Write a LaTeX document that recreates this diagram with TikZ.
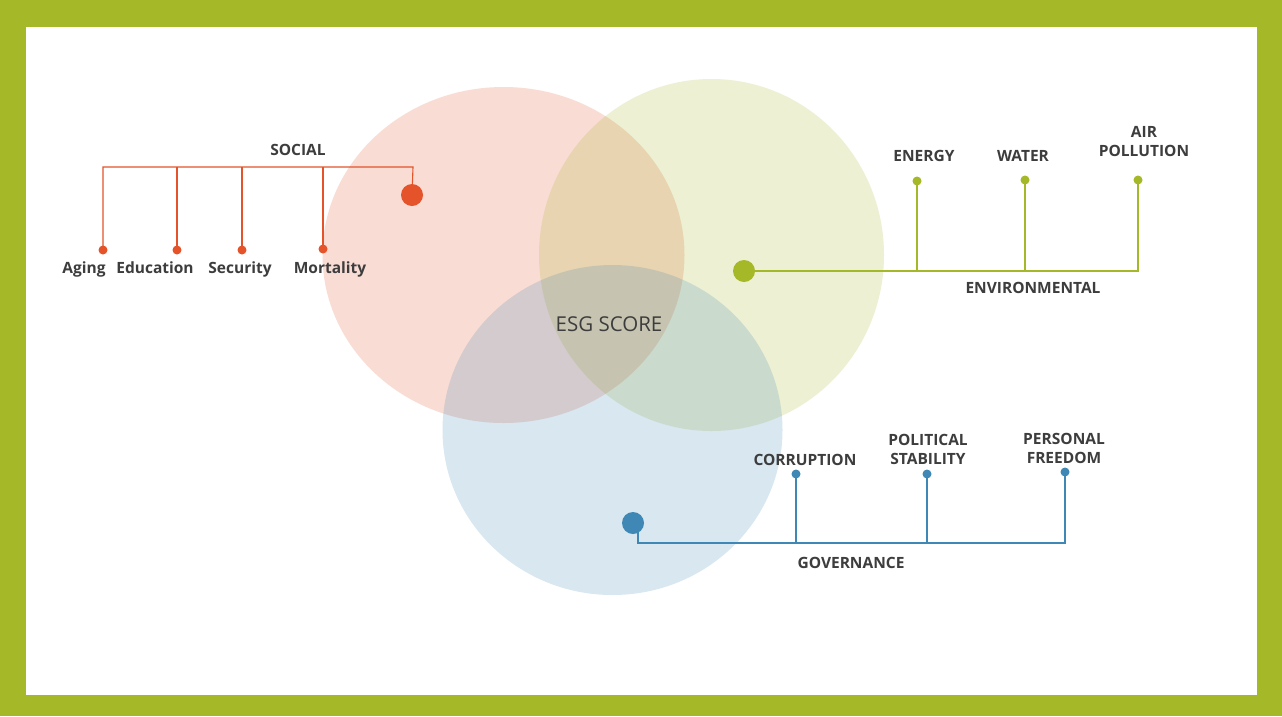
\documentclass[tikz,border=0pt]{standalone}
\usepackage{fontspec}
\setmainfont{Open Sans}
\definecolor{frame}{HTML}{A5B827}
\definecolor{soc}{HTML}{E4532A}
\definecolor{env}{HTML}{A5B827}
\definecolor{gov}{HTML}{3F88B5}
\definecolor{txt}{HTML}{3D3D3D}
\pgfdeclarelayer{back}
\pgfdeclarelayer{mid}
\pgfsetlayers{back,mid,main}
\tikzset{
  bigdot/.style={circle,fill=#1,inner sep=0pt,minimum size=22pt},
  smalldot/.style={circle,fill=#1,inner sep=0pt,minimum size=9pt},
  link/.style={draw=#1,line width=1.1pt},
  lab/.style={text=txt,font=\fontsize{15.5}{19}\selectfont\bfseries,align=center,inner sep=0pt,anchor=base},
  lab2/.style={text=txt,font=\fontsize{15.5}{19}\selectfont\bfseries,align=center,inner sep=0pt},
  venn/.style={fill=#1,fill opacity=0.2}
}
\begin{document}
\begin{tikzpicture}[x=1pt,y=-1pt]
\useasboundingbox (0,0) rectangle (1282,716);
\begin{pgfonlayer}{back}
\fill[frame] (0,0) rectangle (1282,716);
\fill[white] (26,27) rectangle (1257,695);
\fill[venn=soc] (503.5,255) ellipse [x radius=181,y radius=168];
\fill[venn=env] (711.5,255) ellipse [x radius=172.5,y radius=176];
\fill[venn=gov] (612.5,430) ellipse [x radius=170,y radius=165];
\end{pgfonlayer}
% ESG
\node[text=txt,font=\fontsize{20.5}{24}\selectfont,inner sep=0pt,anchor=base] (esg) at (609,331) {ESG SCORE};
% social
\node[bigdot=soc] (sdot) at (412,195) {};
\coordinate (sbar) at (413,167);
\node[smalldot=soc] (s1) at (103,250) {};
\node[smalldot=soc] (s2) at (177,250) {};
\node[smalldot=soc] (s3) at (242,250) {};
\node[smalldot=soc] (s4) at (323,249) {};
\node[lab] (social) at (298,155) {SOCIAL};
\node[lab] (aging) at (84,273.5) {Aging};
\node[lab] (educ) at (155,273.5) {Education};
\node[lab] (secu) at (240,273.5) {Security};
\node[lab] (mort) at (330,273.5) {Mortality};
% environmental
\node[bigdot=env] (edot) at (744,271) {};
\node[smalldot=env] (e1) at (917,181) {};
\node[smalldot=env] (e2) at (1025,180) {};
\node[smalldot=env] (e3) at (1138,180) {};
\coordinate (eend) at (1138,271);
\node[lab] (energy) at (924,161.5) {ENERGY};
\node[lab] (water) at (1023,161.5) {WATER};
\node[lab2] (air) at (1144,141.5) {AIR\\POLLUTION};
\node[lab] (envl) at (1033,293.5) {ENVIRONMENTAL};
% governance
\node[bigdot=gov] (gdot) at (633,523) {};
\node[smalldot=gov] (g1) at (796,474) {};
\node[smalldot=gov] (g2) at (927,474) {};
\node[smalldot=gov] (g3) at (1065,472) {};
\coordinate (gcorner) at (638,543);
\node[lab] (corr) at (805,465.5) {CORRUPTION};
\node[lab2] (pol) at (928,449.5) {POLITICAL\\STABILITY};
\node[lab2] (pers) at (1064,448.5) {PERSONAL\\FREEDOM};
\node[lab] (govl) at (851,568.5) {GOVERNANCE};
\begin{pgfonlayer}{mid}
\draw[link=soc] (sdot.center) -- (sbar) -| (s1.center);
\foreach \n in {s2,s3,s4} \draw[link=soc] (\n.center) -- (\n.center |- sbar);
\draw[link=env] (edot.center) -- (eend) -- (e3.center);
\foreach \n in {e1,e2} \draw[link=env] (\n.center) -- (\n.center |- eend);
\draw[link=gov] (gdot.center -| gcorner) -- (gcorner) -| (g3.center);
\foreach \n in {g1,g2} \draw[link=gov] (\n.center) -- (\n.center |- gcorner);
\end{pgfonlayer}
\end{tikzpicture}
\end{document}
